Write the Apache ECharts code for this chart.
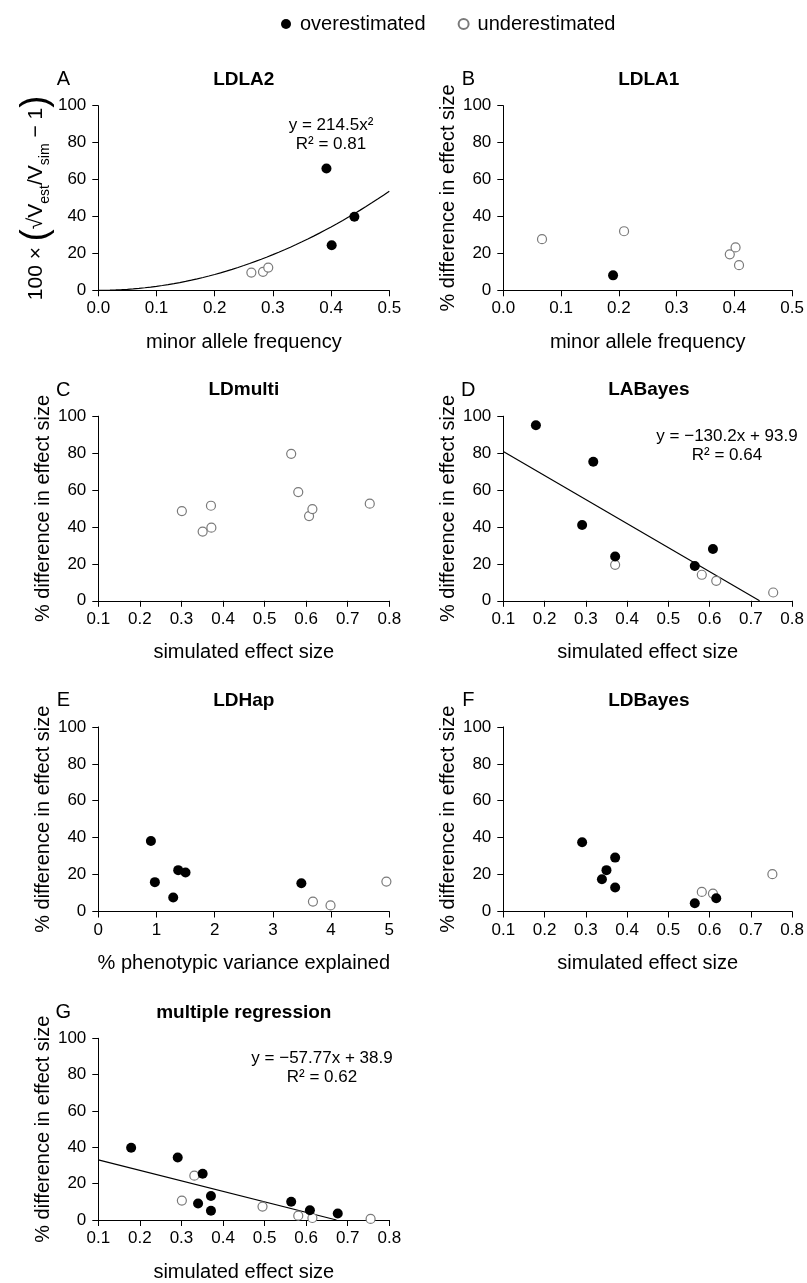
<!DOCTYPE html>
<html>
<head>
<meta charset="utf-8">
<script src="https://cdn.jsdelivr.net/npm/echarts@6/dist/echarts.min.js"></script>
<style>
html,body{margin:0;padding:0;background:#fff;}
#chart{width:807px;height:1283px;}
</style>
</head>
<body>
<div id="chart"></div>
<script>
// ---------- data ----------
const seriesNames = ['overestimated', 'underestimated'];

const A_over  = [[0.392, 66.0], [0.440, 39.8], [0.401, 24.4]];
const A_under = [[0.263, 9.6], [0.283, 10.0], [0.292, 12.3]];
const A_quadCoef = 214.5;           // y = 214.5 x^2
const A_fitRange = [0, 0.5];

const B_over  = [[0.190, 8.1]];
const B_under = [[0.067, 27.7], [0.209, 32.0], [0.392, 19.5], [0.402, 23.2], [0.408, 13.6]];

const C_over  = [];
const C_under = [[0.301, 48.6], [0.351, 37.5], [0.371, 51.5], [0.372, 39.6], [0.564, 79.6],
                 [0.581, 58.9], [0.607, 45.9], [0.615, 49.7], [0.753, 52.6]];

const D_over  = [[0.179, 95.1], [0.318, 75.3], [0.291, 41.1], [0.371, 24.0], [0.564, 18.9], [0.608, 28.1]];
const D_under = [[0.371, 19.5], [0.581, 14.1], [0.616, 10.8], [0.754, 4.5]];
const D_lin = [-130.2, 93.9];       // slope, intercept
const D_fitRange = [0.1, 0.721];

const E_over  = [[0.904, 38.2], [0.972, 15.9], [1.287, 7.6], [1.373, 22.4], [1.499, 21.1], [3.489, 15.3]];
const E_under = [[3.688, 5.4], [3.990, 3.3], [4.950, 16.2]];

const F_over  = [[0.291, 37.5], [0.339, 17.5], [0.350, 22.4], [0.371, 29.2], [0.371, 13.0],
                 [0.564, 4.5], [0.616, 7.2]];
const F_under = [[0.581, 10.6], [0.608, 9.7], [0.752, 20.2]];

const G_over  = [[0.179, 39.8], [0.291, 34.4], [0.340, 9.1], [0.351, 25.5], [0.371, 13.2], [0.371, 5.1],
                 [0.564, 10.0], [0.609, 5.4], [0.676, 3.6]];
const G_under = [[0.301, 10.7], [0.331, 24.4], [0.495, 7.4], [0.581, 2.4], [0.615, 1.1], [0.755, 0.6]];
const G_lin = [-57.77, 38.9];
const G_fitRange = [0.1, 0.673];

const yTicks = [0, 20, 40, 60, 80, 100];
const xTicksMAF = [0.0, 0.1, 0.2, 0.3, 0.4, 0.5];
const xTicksEff = [0.1, 0.2, 0.3, 0.4, 0.5, 0.6, 0.7, 0.8];
const xTicksPVE = [0, 1, 2, 3, 4, 5];

const titles  = ['LDLA2', 'LDLA1', 'LDmulti', 'LABayes', 'LDHap', 'LDBayes', 'multiple regression'];
const letters = ['A', 'B', 'C', 'D', 'E', 'F', 'G'];
const xNames  = ['minor allele frequency', 'minor allele frequency', 'simulated effect size',
                 'simulated effect size', '% phenotypic variance explained', 'simulated effect size',
                 'simulated effect size'];
const yNameStd = '% difference in effect size';
const equations = {
  A: ['y = 214.5x²', 'R² = 0.81'],
  D: ['y = −130.2x + 93.9', 'R² = 0.64'],
  G: ['y = −57.77x + 38.9', 'R² = 0.62']
};

// ---------- layout ----------
const FONT = '"Liberation Sans", Arial, Helvetica, sans-serif';
const colLeft = [98.3, 503.3];
const rowTop = [105.7, 416.2, 726.9, 1038.3];
const GW = 291, GH = 184.6;

function linePts(coef, range) {
  return [[range[0], coef[0] * range[0] + coef[1]], [range[1], coef[0] * range[1] + coef[1]]];
}
function quadPts(a, range) {
  const pts = [];
  for (let i = 0; i <= 50; i++) {
    const x = range[0] + (range[1] - range[0]) * i / 50;
    pts.push([x, a * x * x]);
  }
  return pts;
}

const panels = [
  { over: A_over, under: A_under, ticks: xTicksMAF, dec: 1, fit: quadPts(A_quadCoef, A_fitRange), eq: equations.A, eqX: 331 },
  { over: B_over, under: B_under, ticks: xTicksMAF, dec: 1 },
  { over: C_over, under: C_under, ticks: xTicksEff, dec: 1 },
  { over: D_over, under: D_under, ticks: xTicksEff, dec: 1, fit: linePts(D_lin, D_fitRange), eq: equations.D, eqX: 727 },
  { over: E_over, under: E_under, ticks: xTicksPVE, dec: 0 },
  { over: F_over, under: F_under, ticks: xTicksEff, dec: 1 },
  { over: G_over, under: G_under, ticks: xTicksEff, dec: 1, fit: linePts(G_lin, G_fitRange), eq: equations.G, eqX: 322 }
];

const grid = [], xAxis = [], yAxis = [], series = [], graphic = [];

panels.forEach((p, i) => {
  const left = colLeft[i % 2];
  const top = rowTop[Math.floor(i / 2)];
  grid.push({ left: left, top: top, width: GW, height: GH, containLabel: false });

  const tk = p.ticks;
  const interval = +(tk[1] - tk[0]).toFixed(4);
  xAxis.push({
    gridIndex: i, type: 'value', min: tk[0], max: tk[tk.length - 1], interval: interval,
    axisLine: { show: true, onZero: false, lineStyle: { color: '#000', width: 1 } },
    axisTick: { show: true, inside: false, length: 6, lineStyle: { color: '#000', width: 1 } },
    splitLine: { show: false },
    showMinLabel: true, showMaxLabel: true,
    axisLabel: { fontSize: 17, color: '#000', fontFamily: FONT, margin: 10,
                 formatter: v => Number(v).toFixed(p.dec) },
    name: xNames[i], nameLocation: 'middle', nameGap: 42,
    nameTextStyle: { fontSize: 20, color: '#000', fontFamily: FONT }
  });

  const yAx = {
    gridIndex: i, type: 'value', min: yTicks[0], max: yTicks[yTicks.length - 1], interval: yTicks[1] - yTicks[0],
    axisLine: { show: true, onZero: false, lineStyle: { color: '#000', width: 1 } },
    axisTick: { show: true, inside: false, length: 6, lineStyle: { color: '#000', width: 1 } },
    splitLine: { show: false },
    showMinLabel: true, showMaxLabel: true,
    axisLabel: { fontSize: 17, color: '#000', fontFamily: FONT, margin: 12 },
    nameLocation: 'middle',
    nameTextStyle: { fontSize: 20, color: '#000', fontFamily: FONT }
  };
  if (i === 0) {
    yAx.name = '{b|100 × }{p|(}{b|√V}{s|est}{b|/V}{s|sim}{b| − 1}{p|)}';
    yAx.nameGap = 44;
    yAx.nameTextStyle = {
      color: '#000', fontFamily: FONT,
      rich: {
        b: { fontSize: 21, color: '#000', fontFamily: FONT, verticalAlign: 'middle' },
        p: { fontSize: 36, color: '#000', fontFamily: FONT, verticalAlign: 'middle' },
        s: { fontSize: 14, color: '#000', fontFamily: FONT, verticalAlign: 'bottom', padding: [0, 0, 2, 0] }
      }
    };
  } else {
    yAx.name = yNameStd;
    yAx.nameGap = 45;
  }
  yAxis.push(yAx);

  if (p.fit) {
    series.push({
      type: 'line', name: 'fit', xAxisIndex: i, yAxisIndex: i, data: p.fit,
      showSymbol: false, symbol: 'none', smooth: false, silent: true, z: 1,
      lineStyle: { color: '#000', width: 1.2 }
    });
  }
  series.push({
    type: 'scatter', name: seriesNames[1], xAxisIndex: i, yAxisIndex: i, data: p.under,
    symbol: 'circle', symbolSize: 9, z: 2,
    itemStyle: { color: '#fff', borderColor: '#7a7a7a', borderWidth: 1.2, opacity: 1 }
  });
  series.push({
    type: 'scatter', name: seriesNames[0], xAxisIndex: i, yAxisIndex: i, data: p.over,
    symbol: 'circle', symbolSize: 10, z: 3,
    itemStyle: { color: '#000', opacity: 1 }
  });

  // title and panel letter
  graphic.push({ type: 'text', x: left + GW / 2, y: top - 26,
    style: { text: titles[i], font: 'bold 19px ' + FONT, fill: '#000',
             textAlign: 'center', textVerticalAlign: 'middle', align: 'center', verticalAlign: 'middle' } });
  graphic.push({ type: 'text', x: left - 35, y: top - 26,
    style: { text: letters[i], font: '20px ' + FONT, fill: '#000',
             textAlign: 'center', textVerticalAlign: 'middle', align: 'center', verticalAlign: 'middle' } });
  if (p.eq) {
    p.eq.forEach((t, k) => {
      graphic.push({ type: 'text', x: p.eqX, y: top + 20 + k * 19,
        style: { text: t, font: '17px ' + FONT, fill: '#000',
                 textAlign: 'center', textVerticalAlign: 'middle', align: 'center', verticalAlign: 'middle' } });
    });
  }
});

const chart = echarts.init(document.getElementById('chart'), null, { renderer: 'canvas' });
chart.setOption({
  animation: false,
  backgroundColor: '#fff',
  textStyle: { fontFamily: FONT },
  legend: {
    data: seriesNames, left: 276, top: 9, icon: 'circle', itemWidth: 10, itemHeight: 10, itemGap: 32,
    textStyle: { fontSize: 20, color: '#000', fontFamily: FONT, padding: [0, 0, 0, 4] },
    selectedMode: false
  },
  grid: grid, xAxis: xAxis, yAxis: yAxis, series: series, graphic: graphic
});
</script>
</body>
</html>
